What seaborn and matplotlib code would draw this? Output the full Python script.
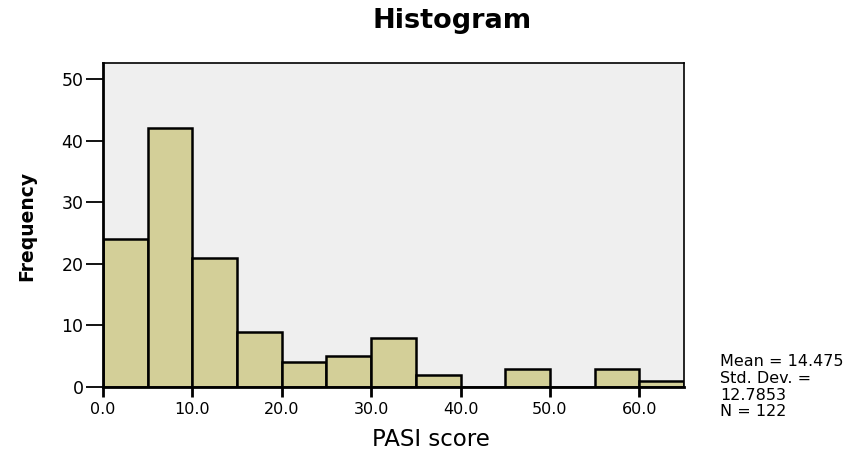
import matplotlib
matplotlib.use("Agg")
import matplotlib.pyplot as plt
import seaborn as sns
import numpy as np

# bin edges and counts (PASI score, width 5)
bin_left = [0, 5, 10, 15, 20, 25, 30, 35, 40, 45, 50, 55, 60]
counts = [24, 42, 21, 9, 4, 5, 8, 2, 0, 3, 0, 3, 1]
x_ticks = [0, 10, 20, 30, 40, 50, 60]
y_ticks = [0, 10, 20, 30, 40, 50]
stats_lines = ["Mean = 14.475", "Std. Dev. =", "12.7853", "N = 122"]

sns.set_style("ticks")
plt.rcParams["font.family"] = ["DejaVu Sans"]
plt.rcParams["text.color"] = "black"
plt.rcParams["axes.labelcolor"] = "black"
plt.rcParams["xtick.color"] = "black"
plt.rcParams["ytick.color"] = "black"

fig = plt.figure(figsize=(8.68, 4.54), dpi=100)
ax = fig.add_axes([103 / 868, 1 - 387 / 454, 581 / 868, 324 / 454])
ax.set_facecolor("#efefef")

centers = np.array(bin_left) + 2.5
edges = bin_left + [65]
sns.histplot(x=centers, weights=counts, bins=edges, ax=ax,
             color="#d3cf98", edgecolor="black", linewidth=1.8, alpha=1)

ax.set_xlim(0, 65)
ax.set_ylim(0, 52.6)
ax.set_xticks(x_ticks)
ax.set_xticklabels([f"{v:.1f}" for v in x_ticks], fontsize=11.5)
ax.set_yticks(y_ticks)
ax.set_yticklabels([str(v) for v in y_ticks], fontsize=12.5)
ax.tick_params(axis="x", length=7, width=2, direction="out", pad=4)
ax.tick_params(axis="y", length=12, width=1.3, direction="out", pad=2)
for s in ax.spines.values():
    s.set_linewidth(1.2)
    s.set_color("black")
ax.spines["bottom"].set_linewidth(2)
ax.spines["left"].set_linewidth(2)

ax.set_xlabel("")
ax.set_ylabel("")
fig.text(431 / 868, 1 - 440 / 454, "PASI score", ha="center", va="center", fontsize=16.5)
fig.text(27 / 868, 1 - 226 / 454, "Frequency", rotation=90, ha="center", va="center",
         fontsize=13.5, fontweight="bold")

fig.text(452 / 868, 1 - 21 / 454, "Histogram", ha="center", va="center",
         fontsize=19.5, fontweight="bold")

fig.text(720 / 868, 1 - 354 / 454, "\n".join(stats_lines), ha="left", va="top",
         fontsize=11.5, linespacing=1.15)

fig.savefig("out.png", dpi=100)
